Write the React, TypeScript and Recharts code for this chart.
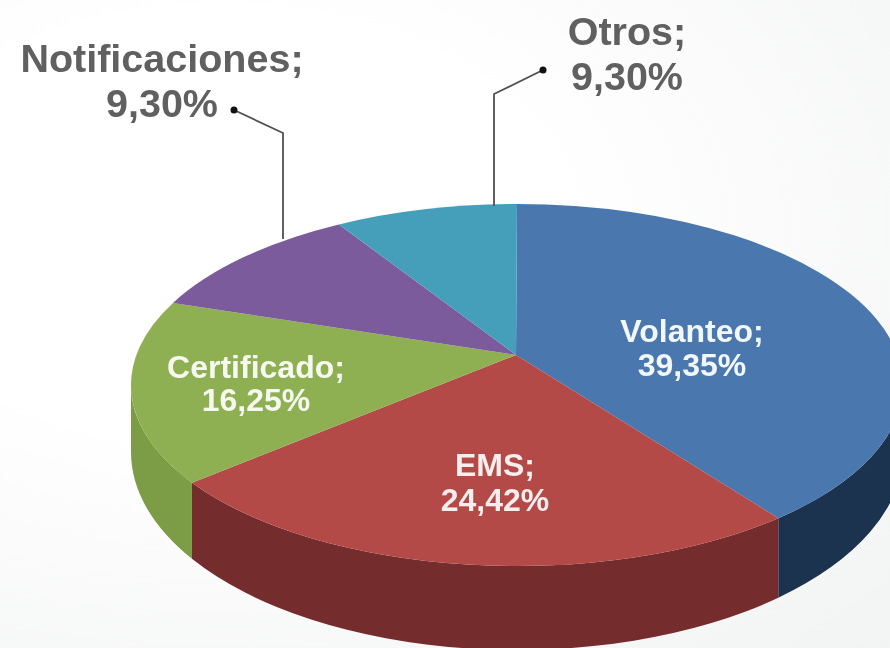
import { Pie, PieChart } from 'recharts'

const categories = ['Volanteo', 'EMS', 'Certificado', 'Notificaciones', 'Otros']
const shares = [39.35, 24.42, 16.25, 9.3, 9.3]
const shareLabels = ['39,35%', '24,42%', '16,25%', '9,30%', '9,30%']
const topColors = ['#4a78ae', '#b44a48', '#8fb052', '#7b5b9b', '#459fba']
const wallColors = ['#1c3350', '#742d2c', '#7d9c46', '#5f4679', '#337c91']

const tableData = categories.map((name, i) => ({ name, value: shares[i], fill: topColors[i] }))

// where the text sits, same order as the categories
const labelSpots = [
  { x: 692, first: 342, second: 376, size: 32, color: '#f2f7fb' },
  { x: 495, first: 476, second: 511, size: 32, color: '#f7efee' },
  { x: 256, first: 378, second: 411, size: 32, color: '#f6f9ef' },
  { x: 162, first: 72, second: 117, size: 39.5, color: '#606060' },
  { x: 627, first: 45, second: 90, size: 39.5, color: '#606060' },
]

const leaders = [
  { index: 3, dot: [234, 110], bend: [283, 133], end: [283, 239] },
  { index: 4, dot: [543, 70], bend: [494, 94], end: [494, 206] },
]

const APEX_X = 516
const APEX_Y = 355
const RADIUS_X = 386
const RIM_CX = 517
const RIM_CY = 385
const RIM_RY = 181
const BASE_CY = 452
const BASE_RY = 198
// the tilted view squeezes angles towards the far side of the disc
const SQUEEZE = 0.87

const rad = (deg: number) => (deg * Math.PI) / 180

// recharts angle -> angle round the drawn ellipse, clockwise from the top
function rimAngle(angle: number) {
  const clockwise = rad(90 - angle) / 2
  const squeezed = (2 * Math.atan2(SQUEEZE * Math.sin(clockwise), Math.cos(clockwise)) * 180) / Math.PI
  // small lens correction, zero at the top of the disc
  return squeezed + 2.5 * Math.sin(rad(squeezed)) - 3.5 * Math.sin(rad(3 * squeezed))
}

const rimPoint = (deg: number, cy = RIM_CY, ry = RIM_RY) => [
  RIM_CX + RADIUS_X * Math.sin(rad(deg)),
  cy - ry * Math.cos(rad(deg)),
]

function TiltedSlice(props: any) {
  const { cx, cy, startAngle, endAngle, index, fill } = props
  const from = rimAngle(startAngle)
  const to = rimAngle(endAngle)
  const [x0, y0] = rimPoint(from)
  const [x1, y1] = rimPoint(to)
  const large = to - from > 180 ? 1 : 0
  const top = `M${cx},${cy} L${x0},${y0} A${RADIUS_X},${RIM_RY} 0 ${large} 1 ${x1},${y1} Z`

  // only the part of the rim facing us has a wall
  const wallFrom = Math.max(from, 90)
  const wallTo = Math.min(to, 270)
  let wall = null
  if (wallTo > wallFrom) {
    const [a, b] = rimPoint(wallFrom)
    const [c, d] = rimPoint(wallTo)
    const [e, f] = rimPoint(wallTo, BASE_CY, BASE_RY)
    const [g, h] = rimPoint(wallFrom, BASE_CY, BASE_RY)
    wall = (
      <path
        d={`M${a},${b} A${RADIUS_X},${RIM_RY} 0 0 1 ${c},${d} L${e},${f} A${RADIUS_X},${BASE_RY} 0 0 0 ${g},${h} Z`}
        fill={wallColors[index]}
      />
    )
  }

  return (
    <g>
      {wall}
      <path d={top} fill={fill} />
    </g>
  )
}

function SliceLabel({ index }: any) {
  const spot = labelSpots[index]
  const leader = leaders.find((l) => l.index === index)
  return (
    <g>
      {leader && (
        <>
          <polyline
            points={`${leader.dot.join(',')} ${leader.bend.join(',')} ${leader.end.join(',')}`}
            fill="none"
            stroke="#505050"
            strokeWidth={1.8}
          />
          <circle cx={leader.dot[0]} cy={leader.dot[1]} r={3.5} fill="#111" />
        </>
      )}
      <text
        textAnchor="middle"
        fontFamily="'Liberation Sans', Arial, sans-serif"
        fontWeight={700}
        fontSize={spot.size}
        fill={spot.color}
      >
        <tspan x={spot.x} y={spot.first}>{categories[index]};</tspan>
        <tspan x={spot.x} y={spot.second}>{shareLabels[index]}</tspan>
      </text>
    </g>
  )
}

export default function App() {
  return (
    <div
      style={{
        position: 'fixed',
        left: 0,
        top: 0,
        width: 890,
        height: 648,
        overflow: 'hidden',
        background: 'radial-gradient(ellipse at 25% 35%, #ffffff 0%, #ffffff 35%, #f2f3f3 100%)',
      }}
    >
      <PieChart width={890} height={648} margin={{ top: 0, right: 0, bottom: 0, left: 0 }}>
        <Pie
          data={tableData}
          dataKey="value"
          nameKey="name"
          cx={APEX_X}
          cy={APEX_Y}
          innerRadius={0}
          outerRadius={RADIUS_X}
          startAngle={90}
          endAngle={-270}
          stroke="none"
          shape={TiltedSlice}
          label={SliceLabel}
          labelLine={false}
          isAnimationActive={false}
        />
      </PieChart>
    </div>
  )
}
